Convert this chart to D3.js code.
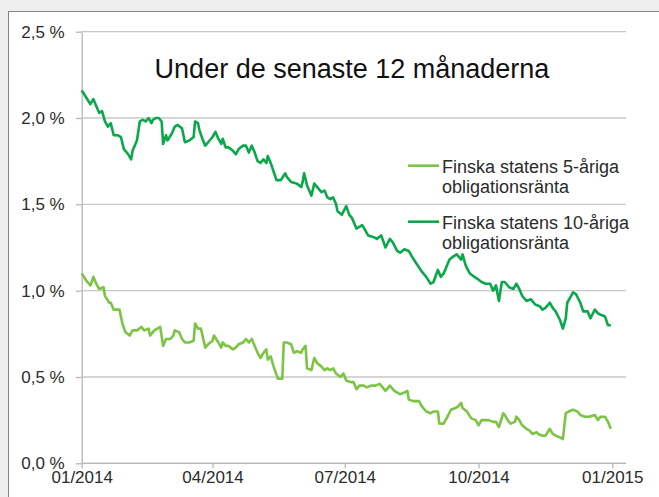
<!DOCTYPE html>
<html>
<head>
<meta charset="utf-8">
<script src="https://cdn.jsdelivr.net/npm/d3@7"></script>
<style>
  body { margin: 0; background: #efefef; }
  svg { display: block; font-family: "Liberation Sans", Arial, sans-serif; }
</style>
</head>
<body>
<svg width="659" height="497"></svg>
<script>
// Finska statens obligationsräntor, 2014
var dates10 = [
  "2014-01-01","2014-01-04","2014-01-07","2014-01-09","2014-01-11","2014-01-13","2014-01-15","2014-01-17","2014-01-19","2014-01-21",
  "2014-01-23","2014-01-26","2014-01-28","2014-01-30","2014-02-02","2014-02-04","2014-02-05","2014-02-08","2014-02-10","2014-02-12",
  "2014-02-14","2014-02-16","2014-02-18","2014-02-19","2014-02-21","2014-02-23","2014-02-25","2014-02-26","2014-02-28","2014-03-01",
  "2014-03-04","2014-03-06","2014-03-08","2014-03-11","2014-03-13","2014-03-16","2014-03-19","2014-03-20","2014-03-22","2014-03-23",
  "2014-03-25","2014-03-27","2014-03-30","2014-04-01","2014-04-03","2014-04-05","2014-04-07","2014-04-08","2014-04-10","2014-04-12",
  "2014-04-15","2014-04-17","2014-04-19","2014-04-22","2014-04-24","2014-04-26","2014-04-28","2014-04-30","2014-05-02","2014-05-04",
  "2014-05-06","2014-05-08","2014-05-09","2014-05-11","2014-05-13","2014-05-15","2014-05-18","2014-05-21","2014-05-22","2014-05-25",
  "2014-05-29","2014-06-01","2014-06-02","2014-06-03","2014-06-05","2014-06-08","2014-06-10","2014-06-12","2014-06-15","2014-06-17",
  "2014-06-19","2014-06-21","2014-06-23","2014-06-25","2014-06-26","2014-06-29","2014-07-02","2014-07-04","2014-07-06","2014-07-09",
  "2014-07-13","2014-07-15","2014-07-17","2014-07-21","2014-07-23","2014-07-26","2014-07-29","2014-08-01","2014-08-03","2014-08-06",
  "2014-08-08","2014-08-11","2014-08-14","2014-08-16","2014-08-19","2014-08-23","2014-08-26","2014-08-29","2014-08-31","2014-09-03",
  "2014-09-05","2014-09-07","2014-09-10","2014-09-11","2014-09-14","2014-09-16","2014-09-19","2014-09-20","2014-09-22","2014-09-23",
  "2014-09-25","2014-09-28","2014-09-30","2014-10-03","2014-10-06","2014-10-09","2014-10-11","2014-10-13","2014-10-15","2014-10-17",
  "2014-10-19","2014-10-22","2014-10-25","2014-10-27","2014-10-29","2014-10-31","2014-11-03","2014-11-06","2014-11-09","2014-11-12",
  "2014-11-14","2014-11-16","2014-11-19","2014-11-21","2014-11-23","2014-11-26","2014-11-28","2014-11-30","2014-12-01","2014-12-03",
  "2014-12-05","2014-12-07","2014-12-10","2014-12-12","2014-12-15","2014-12-17","2014-12-20","2014-12-22","2014-12-24","2014-12-27",
  "2014-12-29","2014-12-31"
];
var values10 = [
  2.16,2.12,2.08,2.11,2.07,2.03,2.04,1.98,1.95,1.97,
  1.90,1.90,1.89,1.82,1.79,1.76,1.81,1.87,1.98,1.99,
  1.98,2.00,1.97,1.99,2.00,2.00,1.98,1.85,1.90,1.87,
  1.91,1.95,1.96,1.94,1.86,1.87,1.89,1.98,1.97,1.93,
  1.88,1.84,1.87,1.89,1.92,1.88,1.85,1.88,1.83,1.83,
  1.81,1.79,1.82,1.84,1.84,1.80,1.84,1.80,1.75,1.74,
  1.76,1.74,1.78,1.74,1.69,1.64,1.64,1.68,1.66,1.63,
  1.62,1.60,1.63,1.68,1.61,1.55,1.62,1.60,1.57,1.58,
  1.54,1.53,1.54,1.50,1.46,1.44,1.49,1.44,1.42,1.36,
  1.38,1.35,1.32,1.31,1.30,1.32,1.25,1.30,1.28,1.23,
  1.22,1.24,1.23,1.20,1.16,1.11,1.08,1.04,1.05,1.12,
  1.08,1.10,1.16,1.18,1.20,1.21,1.18,1.21,1.15,1.13,
  1.10,1.08,1.07,1.05,1.04,1.04,1.00,1.03,0.94,1.05,
  1.05,1.02,1.01,1.04,1.01,0.97,0.94,0.95,0.92,0.91,
  0.89,0.90,0.93,0.90,0.88,0.83,0.78,0.84,0.93,0.96,
  0.99,0.98,0.93,0.88,0.88,0.84,0.89,0.87,0.86,0.85,
  0.80,0.80
];
var dates5 = [
  "2014-01-01","2014-01-04","2014-01-07","2014-01-09","2014-01-11","2014-01-13","2014-01-16","2014-01-17","2014-01-20","2014-01-21",
  "2014-01-23","2014-01-25","2014-01-27","2014-01-29","2014-01-31","2014-02-03","2014-02-05","2014-02-08","2014-02-11","2014-02-13",
  "2014-02-16","2014-02-17","2014-02-20","2014-02-24","2014-02-26","2014-02-28","2014-03-03","2014-03-05","2014-03-06","2014-03-09",
  "2014-03-11","2014-03-13","2014-03-16","2014-03-19","2014-03-20","2014-03-22","2014-03-24","2014-03-27","2014-03-29","2014-04-01",
  "2014-04-02","2014-04-05","2014-04-07","2014-04-08","2014-04-10","2014-04-12","2014-04-15","2014-04-17","2014-04-19","2014-04-22",
  "2014-04-24","2014-04-26","2014-04-28","2014-04-30","2014-05-02","2014-05-04","2014-05-06","2014-05-08","2014-05-09","2014-05-11",
  "2014-05-13","2014-05-16","2014-05-19","2014-05-20","2014-05-22","2014-05-25","2014-05-27","2014-05-29","2014-06-01","2014-06-02",
  "2014-06-04","2014-06-05","2014-06-08","2014-06-10","2014-06-12","2014-06-15","2014-06-17","2014-06-19","2014-06-21","2014-06-23",
  "2014-06-25","2014-06-28","2014-06-30","2014-07-02","2014-07-05","2014-07-07","2014-07-09","2014-07-11","2014-07-14","2014-07-16",
  "2014-07-19","2014-07-22","2014-07-25","2014-07-27","2014-07-29","2014-08-01","2014-08-04","2014-08-06","2014-08-08","2014-08-11",
  "2014-08-13","2014-08-14","2014-08-17","2014-08-21","2014-08-23","2014-08-26","2014-08-29","2014-08-31","2014-09-03","2014-09-04",
  "2014-09-07","2014-09-09","2014-09-12","2014-09-15","2014-09-17","2014-09-19","2014-09-20","2014-09-23","2014-09-26","2014-09-29",
  "2014-10-01","2014-10-03","2014-10-05","2014-10-08","2014-10-11","2014-10-13","2014-10-15","2014-10-18","2014-10-19","2014-10-21",
  "2014-10-23","2014-10-26","2014-10-27","2014-10-29","2014-10-31","2014-11-03","2014-11-05","2014-11-07","2014-11-10","2014-11-11",
  "2014-11-14","2014-11-16","2014-11-19","2014-11-21","2014-11-23","2014-11-26","2014-11-28","2014-11-30","2014-12-02","2014-12-05",
  "2014-12-08","2014-12-10","2014-12-13","2014-12-16","2014-12-20","2014-12-22","2014-12-24","2014-12-27","2014-12-29","2014-12-31"
];
var values5 = [
  1.10,1.06,1.03,1.08,1.04,1.01,1.02,0.97,0.93,0.93,
  0.89,0.89,0.89,0.81,0.76,0.74,0.77,0.77,0.79,0.77,
  0.78,0.74,0.77,0.79,0.68,0.72,0.72,0.74,0.77,0.76,
  0.72,0.70,0.70,0.71,0.81,0.78,0.78,0.67,0.69,0.71,
  0.74,0.70,0.67,0.70,0.68,0.68,0.66,0.67,0.69,0.70,
  0.72,0.70,0.72,0.68,0.64,0.61,0.64,0.66,0.60,0.62,
  0.56,0.49,0.49,0.70,0.70,0.69,0.64,0.65,0.64,0.66,
  0.68,0.55,0.54,0.61,0.58,0.56,0.54,0.55,0.54,0.55,
  0.52,0.50,0.52,0.48,0.47,0.47,0.43,0.45,0.45,0.44,
  0.45,0.45,0.46,0.44,0.42,0.45,0.42,0.41,0.40,0.41,
  0.42,0.37,0.36,0.36,0.33,0.30,0.29,0.30,0.30,0.23,
  0.23,0.26,0.31,0.32,0.33,0.35,0.32,0.30,0.26,0.25,
  0.22,0.25,0.25,0.25,0.24,0.24,0.21,0.29,0.28,0.25,
  0.23,0.24,0.27,0.25,0.22,0.20,0.19,0.17,0.18,0.17,
  0.16,0.16,0.20,0.17,0.16,0.15,0.14,0.29,0.30,0.31,
  0.30,0.28,0.27,0.27,0.28,0.25,0.27,0.27,0.24,0.20
];
var yTicks = [0, 0.5, 1.0, 1.5, 2.0, 2.5];
var seriesNames = ["Finska statens 5-åriga|obligationsränta", "Finska statens 10-åriga|obligationsränta"];
var seriesColors = ["#7cc444", "#0aa84b"];
var title = "Under de senaste 12 månaderna";

var parse = d3.timeParse("%Y-%m-%d");

var series = [
  dates5.map(function(d, i) { return { date: parse(d), value: values5[i] }; }),
  dates10.map(function(d, i) { return { date: parse(d), value: values10[i] }; })
];

var svg = d3.select('svg'),
    w = +svg.attr('width'),
    h = +svg.attr('height');

// panel frame
svg.append('rect')
    .attr('x', 8.5).attr('y', 11.5)
    .attr('width', w + 20).attr('height', h + 20)
    .attr('fill', '#fff')
    .attr('stroke', '#858585')
    .attr('stroke-width', 1);

// plot area edges (pixels)
var plotL = 81.7, plotR = 612.3, gridR = 626,
    plotT = 31.7, plotB = 463.3;

var x = d3.scaleTime()
      .domain([new Date(2014, 0, 1), new Date(2015, 0, 1)])
      .range([plotL, plotR]),
    y = d3.scaleLinear()
      .domain([0, 2.5])
      .range([plotB, plotT]);

var fmtY = function(d) { return d3.format('.1f')(d).replace('.', ',') + ' %'; };

// gridlines
svg.append('g').selectAll('line')
    .data(yTicks)
    .enter().append('line')
    .attr('x1', plotL).attr('x2', gridR)
    .attr('y1', function(d) { return y(d); })
    .attr('y2', function(d) { return y(d); })
    .attr('stroke', '#c8c8c8')
    .attr('stroke-width', 1.3);

// y axis
var yAxis = svg.append('g')
    .attr('transform', 'translate(' + plotL + ',0)')
    .call(d3.axisLeft(y).tickValues(yTicks).tickFormat(fmtY).tickSize(6).tickPadding(11).tickSizeOuter(0));
yAxis.select('.domain').attr('stroke', '#b8b8b8').attr('stroke-width', 1.3);
yAxis.selectAll('.tick line').attr('stroke', '#b8b8b8').attr('stroke-width', 1.3);
yAxis.selectAll('text')
    .attr('fill', '#2b2b2b')
    .style('font-size', '17px')
    .style('font-family', '"Liberation Sans", Arial, sans-serif');

// x axis
var xAxis = svg.append('g')
    .attr('transform', 'translate(0,' + plotB + ')')
    .call(d3.axisBottom(x).ticks(d3.timeMonth.every(3)).tickFormat(d3.timeFormat('%m/%Y')).tickSize(5).tickPadding(3).tickSizeOuter(0));
xAxis.select('.domain').attr('stroke', '#b8b8b8').attr('stroke-width', 1.3)
    .attr('d', 'M' + plotL + ',0H' + gridR);
xAxis.selectAll('.tick line').attr('stroke', '#b8b8b8').attr('stroke-width', 1.3);
xAxis.selectAll('text')
    .attr('fill', '#2b2b2b')
    .style('font-size', '17px')
    .style('font-family', '"Liberation Sans", Arial, sans-serif');

// lines
var line = d3.line()
    .x(function(d) { return x(d.date); })
    .y(function(d) { return y(d.value); });

svg.append('g').selectAll('path')
    .data(series)
    .enter().append('path')
    .attr('d', line)
    .attr('fill', 'none')
    .attr('stroke', function(d, i) { return seriesColors[i]; })
    .attr('stroke-width', 2.6)
    .attr('stroke-linejoin', 'round');

// title
svg.append('text')
    .attr('x', 352).attr('y', 78)
    .attr('text-anchor', 'middle')
    .attr('fill', '#111')
    .style('font-size', '27px')
    .text(title);

// legend
var legend = svg.append('g').selectAll('g')
    .data(seriesNames)
    .enter().append('g')
    .attr('transform', function(d, i) { return 'translate(408,' + (165.7 + i * 56) + ')'; });

legend.append('line')
    .attr('x1', 0).attr('x2', 31)
    .attr('stroke', function(d, i) { return seriesColors[i]; })
    .attr('stroke-width', 2.6);

legend.append('text')
    .attr('x', 34).attr('y', 7.5)
    .attr('fill', '#2b2b2b')
    .style('font-size', '18px')
    .selectAll('tspan')
    .data(function(d) { return d.split('|'); })
    .enter().append('tspan')
    .attr('x', 34)
    .attr('dy', function(d, i) { return i ? 19.5 : 0; })
    .text(function(d) { return d; });
</script>
</body>
</html>
